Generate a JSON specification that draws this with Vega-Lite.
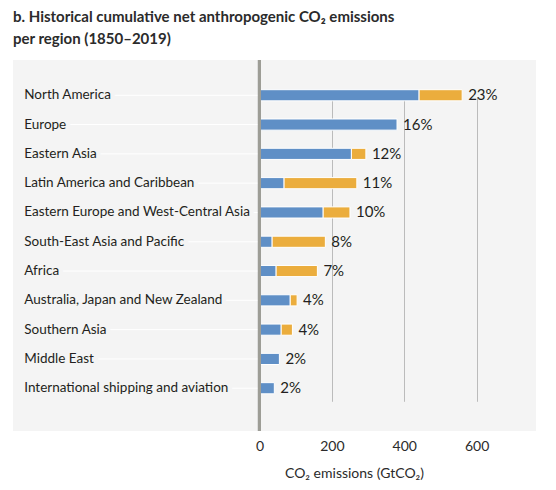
{
  "$schema": "https://vega.github.io/schema/vega-lite/v6.json",
  "width": 523,
  "height": 371,
  "autosize": {"type": "none"},
  "padding": {"left": 13, "top": 60, "right": 20, "bottom": 59},
  "background": "white",
  "config": {
    "view": {"fill": "#f4f4f4", "stroke": null},
    "font": "Lato"
  },
  "title": {
    "text": ["b. Historical cumulative net anthropogenic CO₂ emissions", "per region (1850–2019)"],
    "anchor": "start",
    "frame": "group",
    "fontSize": 15,
    "fontWeight": "bold",
    "color": "#2b2b2b",
    "lineHeight": 21.5,
    "offset": 12,
    "font": "Lato"
  },
  "data": {
    "values": [
      {"region": "North America", "ffi": 441, "lulucf": 119, "pct": "23%"},
      {"region": "Europe", "ffi": 380, "lulucf": 0, "pct": "16%"},
      {"region": "Eastern Asia", "ffi": 254, "lulucf": 40, "pct": "12%"},
      {"region": "Latin America and Caribbean", "ffi": 68, "lulucf": 201, "pct": "11%"},
      {"region": "Eastern Europe and West-Central Asia", "ffi": 176, "lulucf": 74, "pct": "10%"},
      {"region": "South-East Asia and Pacific", "ffi": 35, "lulucf": 147, "pct": "8%"},
      {"region": "Africa", "ffi": 46, "lulucf": 114, "pct": "7%"},
      {"region": "Australia, Japan and New Zealand", "ffi": 85, "lulucf": 19, "pct": "4%"},
      {"region": "Southern Asia", "ffi": 60, "lulucf": 31, "pct": "4%"},
      {"region": "Middle East", "ffi": 55, "lulucf": 0, "pct": "2%"},
      {"region": "International shipping and aviation", "ffi": 41, "lulucf": 0, "pct": "2%"}
    ]
  },
  "layer": [
    {
      "mark": {"type": "rule", "color": "white", "strokeWidth": 1},
      "encoding": {
        "y": {
          "field": "region", "type": "nominal", "sort": null, "axis": null,
          "scale": {"type": "band", "paddingInner": 0.62, "paddingOuter": 0, "range": [29.7, 333.8]}
        },
        "x": {
          "datum": -650, "type": "quantitative",
          "scale": {"domain": [-681, 764], "nice": false, "zero": false},
          "axis": {
            "values": [0, 200, 400, 600],
            "grid": true, "gridColor": "#bbbbbb", "gridWidth": 1,
            "domain": false, "ticks": false,
            "labelFontSize": 14, "labelColor": "#2b2b2b", "labelPadding": 8,
            "labelFont": "Lato",
            "title": "CO₂ emissions (GtCO₂)",
            "titleFont": "Lato",
            "titleFontSize": 14, "titleFontWeight": "normal", "titleColor": "#2b2b2b",
            "titleX": 341, "titleY": 46, "titleAlign": "center", "titleBaseline": "alphabetic", "titleAnchor": null
          }
        },
        "x2": {"datum": 0}
      }
    },
    {
      "mark": {"type": "text", "align": "left", "baseline": "middle", "fontSize": 13.5, "color": "#f4f4f4", "stroke": "#f4f4f4", "strokeWidth": 9},
      "encoding": {
        "y": {"field": "region", "type": "nominal", "sort": null},
        "x": {"datum": -650, "type": "quantitative"},
        "text": {"field": "region"}
      }
    },
    {
      "mark": {"type": "text", "align": "left", "baseline": "middle", "fontSize": 13.5, "color": "#231f20"},
      "encoding": {
        "y": {"field": "region", "type": "nominal", "sort": null},
        "x": {"datum": -650, "type": "quantitative"},
        "text": {"field": "region"}
      }
    },
    {
      "transform": [
        {"fold": ["ffi", "lulucf"], "as": ["source", "value"]},
        {"filter": "datum.value > 0"}
      ],
      "mark": {"type": "bar", "stroke": "white", "strokeWidth": 1},
      "encoding": {
        "y": {"field": "region", "type": "nominal", "sort": null},
        "x": {"field": "value", "type": "quantitative", "stack": "zero"},
        "color": {
          "field": "source", "type": "nominal",
          "scale": {"domain": ["ffi", "lulucf"], "range": ["#5f8fc6", "#ebad3d"]},
          "legend": null
        },
        "order": {"field": "source", "sort": "ascending"}
      }
    },
    {
      "mark": {"type": "rule", "color": "#9d9d96", "strokeWidth": 3},
      "encoding": {"x": {"datum": 0, "type": "quantitative"}}
    },
    {
      "transform": [{"fold": ["ffi", "lulucf"], "as": ["source", "value"]}],
      "mark": {"type": "text", "align": "left", "baseline": "middle", "dx": 6, "fontSize": 15, "color": "#231f20"},
      "encoding": {
        "y": {"field": "region", "type": "nominal", "sort": null},
        "x": {"aggregate": "sum", "field": "value", "type": "quantitative"},
        "text": {"field": "pct", "type": "nominal"}
      }
    }
  ]
}
